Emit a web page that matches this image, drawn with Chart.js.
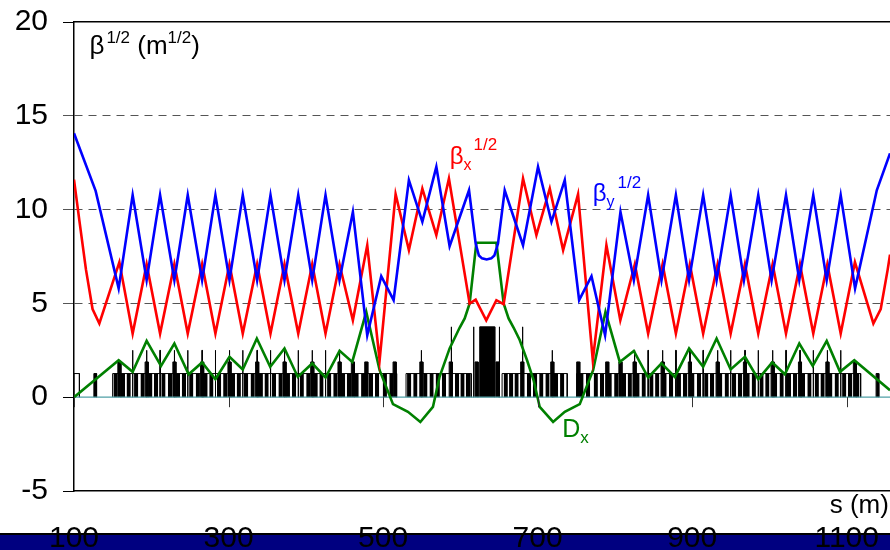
<!DOCTYPE html>
<html>
<head>
<meta charset="utf-8">
<script src="https://cdn.jsdelivr.net/npm/chart.js@4"></script>
<style>
html, body { margin: 0; padding: 0; background: #fff; }
#wrap { position: relative; width: 890px; height: 550px; overflow: hidden; }
#band { position: absolute; left: 0; top: 533px; width: 890px; height: 17px; background: #000080; border-top: 2px solid #000; box-sizing: border-box; }
canvas { position: absolute; left: 0; top: 0; }
</style>
</head>
<body>
<div id="wrap"><div id="band"></div><canvas id="optics" width="890" height="550"></canvas></div>
<script>
// axis ticks
const xTicks = [100, 300, 500, 700, 900, 1100];
const yTicks = [-5, 0, 5, 10, 15, 20];

// sqrt(beta_y)
const sY = [100,128,157.8,175.9,194,211.4,229.9,247.2,265.8,283,301.2,318.4,337,354.3,372.4,390.2,408.3,425.5,443.6,
  460.9,479.5,497.6,513.6,533.4,550.8,568.9,586.1,611.2,619.8,624,628,634,640,644,648.7,
  657.4,681.1,700.5,717.9,735.1,753.7,769.7,787.3,807.2,824.5,
  843,860.3,878.9,896,914.2,931.6,949.8,967,985.5,1002.8,1021.4,1038.6,1056.7,1074.1,1092.2,1110.8,1138.9,1156];
const betaY = [14.07,11.0,5.8,10.77,6.24,10.77,6.24,10.77,6.24,10.77,6.24,10.77,6.24,10.77,6.24,10.77,6.24,10.77,6.24,
  9.88,3.3,6.45,5.17,11.57,9.35,12.28,8.05,11.03,8.19,7.55,7.4,7.34,7.4,7.55,8.19,
  11.03,8.1,12.28,9.35,11.57,5.17,6.45,3.3,9.88,6.24,
  10.77,6.24,10.77,6.24,10.77,6.24,10.77,6.24,10.77,6.24,10.77,6.24,10.77,6.24,10.77,5.8,11.03,13.0];

// sqrt(beta_x)
const sX = [100,107,115.5,124,132.8,158.7,175.9,194,211.4,229.9,247.2,265.8,283,301.2,318.4,337,354.3,372.4,390.2,408.3,425.5,443.6,
  460.9,479.5,495.5,516.2,533.4,550.8,568.9,585.2,612,619.8,633.5,646.6,656,681.1,698.4,715.7,733,752.3,771.4,789,807,
  825.8,843,861.7,878.9,897,914.2,932.9,949.8,968.3,985.5,1004.1,1021.4,1039.5,1056.7,1074.9,1092.2,1110.6,1134.5,1144,1153,1156];
const betaX = [11.6,9.4,6.8,4.7,3.93,7.2,3.39,7.09,3.39,7.09,3.39,7.09,3.39,7.09,3.39,7.09,3.39,7.09,3.39,7.09,3.39,7.09,
  4.1,8.1,1.97,10.82,7.84,11.12,8.64,11.66,4.99,5.2,4.1,5.17,4.96,11.66,8.64,11.12,7.84,10.82,1.97,8.1,4.1,
  7.09,3.39,7.09,3.39,7.09,3.39,7.09,3.39,7.09,3.39,7.09,3.39,7.09,3.39,7.09,3.39,7.2,3.93,4.7,6.8,7.6];

// horizontal dispersion
const sD = [100,157.8,175.9,194,212.6,229.9,248.4,265.8,283,301.2,318.4,336.6,353.9,372.4,389.6,408.3,425.5,443.7,460.1,478.2,
  495.5,512.8,532.2,548.2,564.5,573.2,586.1,599,605.6,612,620.7,
  646.6,656,662.4,669,676.8,686.3,694.8,702.7,720,735.1,754.5,771.8,787.8,
  806.3,824.5,843,860.3,877.6,896,914.2,931.6,949.8,968.3,985.5,1003.6,1020,1038.6,1056,1074.1,1091.3,1109.8,1156];
const dispX = [0,1.97,1.35,3.0,1.67,2.86,1.22,1.85,0.96,2.15,1.48,3.13,1.62,2.6,1.08,1.8,1.05,2.47,1.88,4.55,
  1.44,-0.37,-0.78,-1.32,-0.52,1.1,2.6,3.7,4.2,5.0,8.23,
  8.23,5.0,4.2,3.7,3.05,1.97,0.9,-0.52,-1.32,-0.78,-0.37,1.44,4.55,
  1.88,2.47,1.05,1.8,1.08,2.6,1.62,3.13,1.48,2.15,0.96,1.85,1.22,2.86,1.67,3.0,1.35,1.97,0.37];

// lattice (element positions in m)
const dipoleS = [151,160.5,168,177.7,186,196,203.5,213,221.5,231.7,239.5,249,257.5,267.5,275,285,293,303,310.5,320,328.5,
  339,346.5,356,364.5,374,382,392,400.5,410,417.5,427.5,435.5,445.5,453,463,471.5,481.5,489.5,499.5,508,
  531,539,552,560,568,576,593,600,607,656,663,670,686,694,702,710,721,729,
  754,762.5,772.5,780.5,790.5,799,809,816.5,826.5,834.5,844.5,852,861.5,870,880,888,897.5,906,915.5,923,933.5,
  942,951.5,959,969,977,987,994.5,1004.5,1013,1022.5,1030.3,1040.5,1049,1058.5,1066,1076,1084.3,1094,1101.5,1111];
const quadS = [175.9,194,211.4,229.9,247.2,265.8,283,301.2,318.4,337,354.3,372.4,390.2,408.3,425.5,443.6,549.5,718.9,
  825.4,843,861.7,878.9,897,914.2,932.9,949.8,968.3,985.5,1004.1,1021.4,1039.5,1056.7,1074.9,1092.2];
const sextS = [158.7,194,229.9,265.8,301.2,337,372.4,408.3,443.6,460.9,478.2,514.9,549.5,587.5,621,648,680,718.9,752.5,
  790,807.1,825.4,861.7,897,932.9,968.3,1004.1,1039.5,1074.9,1110.6];
const insertS = [588.3, 617.2, 650.5, 680.5];
const markerS = [125.7, 1138];
const coreStart = [625];
const coreEnd = [644.5];
const girderStart = [100, 150, 529.7, 654, 750.5];
const girderEnd = [107, 517.5, 614, 738.3, 1118];

const DIPOLE_H = 1.26, QUAD_H = 2.5, SEXT_H = 1.88, INSERT_H = 3.75;
const S_MIN = 100, S_MAX = 1156;

const FONT = 'Arial, "Liberation Sans", sans-serif';
Chart.defaults.font.family = FONT;

const pairs = (xs, ys) => xs.map((x, i) => ({ x: x, y: ys[i] }));

function rects(starts, ends, h) {
  const pts = [];
  starts.forEach((s0, i) => {
    const s1 = ends[i];
    pts.push({ x: s0, y: 0 }, { x: s0, y: h }, { x: s1, y: h }, { x: s1, y: 0 }, { x: s1, y: null });
  });
  return pts;
}
const fromStart = (arr, len) => arr.map(s => s + len);
const centred = (arr, len) => arr.map(s => s - len / 2);

function lattice(data, filled, width) {
  return {
    data: data,
    borderColor: '#000',
    borderWidth: width,
    backgroundColor: '#000',
    fill: filled ? 'origin' : false,
    pointRadius: 0,
    tension: 0
  };
}

function curve(data, color) {
  return { data: data, borderColor: color, borderWidth: 2.6, pointRadius: 0, fill: false, tension: 0 };
}

const dashedAt = [5, 10, 15];

const zeroTicks = {
  id: 'zeroTicks',
  afterDatasetsDraw(chart) {
    const ctx = chart.ctx, xs = chart.scales.x, ys = chart.scales.y;
    const y0 = ys.getPixelForValue(0);
    ctx.save();
    ctx.strokeStyle = '#333';
    ctx.lineWidth = 1;
    xTicks.forEach(v => {
      const px = Math.round(xs.getPixelForValue(v)) + 0.5;
      ctx.beginPath();
      ctx.moveTo(px, y0);
      ctx.lineTo(px, y0 + 10);
      ctx.stroke();
    });
    ctx.restore();
  }
};

function drawParts(ctx, x, y, parts, color) {
  ctx.fillStyle = color;
  ctx.textAlign = 'left';
  ctx.textBaseline = 'alphabetic';
  let cx = x;
  parts.forEach(p => {
    ctx.font = p.size + 'px ' + FONT;
    cx += p.gap || 0;
    ctx.fillText(p.t, cx, y + (p.dy || 0));
    cx += ctx.measureText(p.t).width;
  });
}

const labels = {
  id: 'labels',
  afterDatasetsDraw(chart) {
    const ctx = chart.ctx, xs = chart.scales.x, ys = chart.scales.y;
    const at = (s, v) => [xs.getPixelForValue(s), ys.getPixelForValue(v)];
    ctx.save();
    let p = at(120, 18.3);
    drawParts(ctx, p[0], p[1], [
      { t: 'β', size: 26 }, { t: '1/2', size: 17, dy: -11, gap: 2 },
      { t: ' (m', size: 26 }, { t: '1/2', size: 17, dy: -11 }, { t: ')', size: 26 }
    ], '#000');
    p = at(586.2, 12.42);
    drawParts(ctx, p[0], p[1], [
      { t: 'β', size: 24 }, { t: 'x', size: 16, dy: 6 }, { t: '1/2', size: 17, dy: -14, gap: 2 }
    ], '#ff0000');
    p = at(771.4, 10.45);
    drawParts(ctx, p[0], p[1], [
      { t: 'β', size: 24 }, { t: 'y', size: 16, dy: 6 }, { t: '1/2', size: 17, dy: -13, gap: 3 }
    ], '#0000ff');
    p = at(731.7, -2.13);
    drawParts(ctx, p[0], p[1], [
      { t: 'D', size: 25 }, { t: 'x', size: 17, dy: 6 }
    ], '#008000');
    p = at(1078, -6.17);
    drawParts(ctx, p[0], p[1], [{ t: 's (m)', size: 26 }], '#000');
    ctx.restore();
  }
};

const noPad = s => { s.paddingLeft = 0; s.paddingRight = 0; s.paddingTop = 0; s.paddingBottom = 0; };

new Chart(document.getElementById('optics').getContext('2d'), {
  type: 'line',
  data: {
    datasets: [
      curve(pairs(sY, betaY), '#0000ff'),
      curve(pairs(sX, betaX), '#ff0000'),
      curve(pairs(sD, dispX), '#008000'),
      { data: [{ x: S_MIN, y: 0 }, { x: S_MAX, y: 0 }], borderColor: '#4f9fa6', borderWidth: 1.2, pointRadius: 0, fill: false },
      lattice(rects(centred(insertS, 0.6), fromStart(centred(insertS, 0.6), 0.6), INSERT_H), true, 1),
      lattice(rects(centred(quadS, 0.6), fromStart(centred(quadS, 0.6), 0.6), QUAD_H), true, 1),
      lattice(rects(centred(sextS, 4), fromStart(centred(sextS, 4), 4), SEXT_H), true, 1),
      lattice(rects(coreStart, coreEnd, INSERT_H), true, 1),
      lattice(rects(markerS, fromStart(markerS, 3.5), DIPOLE_H), true, 1),
      lattice(rects(dipoleS, fromStart(dipoleS, 5.5), DIPOLE_H), true, 0),
      lattice(rects(girderStart, girderEnd, DIPOLE_H), false, 1)
    ]
  },
  options: {
    responsive: false,
    animation: false,
    layout: { padding: { top: 22, left: 0, right: 0, bottom: 0 } },
    plugins: { legend: { display: false }, tooltip: { enabled: false } },
    scales: {
      x: {
        type: 'linear',
        min: S_MIN,
        max: S_MAX,
        afterBuildTicks: s => { s.ticks = xTicks.map(v => ({ value: v })); },
        afterFit: s => { s.height = 59; noPad(s); },
        grid: { display: false },
        border: { color: '#000', width: 1.5 },
        ticks: { font: { size: 30 }, color: '#000', padding: 22, maxRotation: 0, autoSkip: false, callback: v => String(v) }
      },
      xTop: {
        type: 'linear',
        position: 'top',
        min: S_MIN,
        max: S_MAX,
        afterFit: s => { s.height = 0; noPad(s); },
        grid: { display: false },
        ticks: { display: false },
        border: { color: '#000', width: 1.5 }
      },
      y: {
        type: 'linear',
        min: -5,
        max: 20,
        afterBuildTicks: s => { s.ticks = yTicks.map(v => ({ value: v })); },
        afterFit: s => { s.width = 74; noPad(s); },
        grid: {
          color: c => dashedAt.includes(c.tick.value) ? '#555' : 'rgba(0,0,0,0)',
          tickColor: c => dashedAt.includes(c.tick.value) ? '#555' : '#000',
          tickLength: 11,
          lineWidth: 1
        },
        border: { color: '#000', width: 1.5, dash: [8, 6] },
        ticks: { font: { size: 30 }, color: '#000', padding: 15 }
      }
    }
  },
  plugins: [zeroTicks, labels]
});
</script>
</body>
</html>
